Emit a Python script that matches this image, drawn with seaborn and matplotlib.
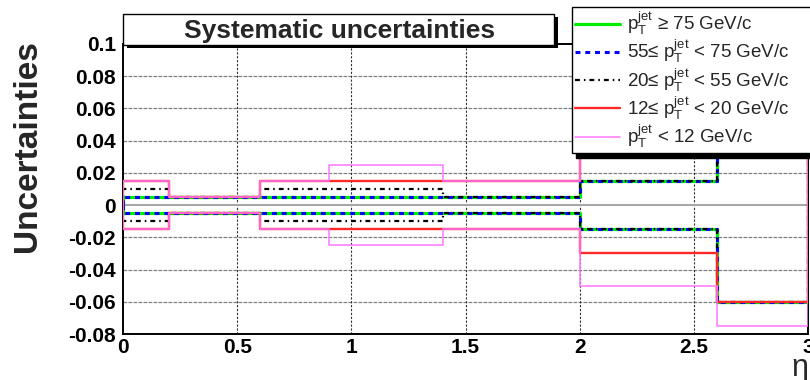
import matplotlib
matplotlib.use("Agg")
import matplotlib.pyplot as plt
from matplotlib.patches import Rectangle
from matplotlib.lines import Line2D
from matplotlib.ticker import FixedLocator, MultipleLocator
import pandas as pd
import seaborn as sns

# ---- data -------------------------------------------------------------
eta_edges = [0.0, 0.2, 0.6, 0.9, 1.4, 2.0, 2.6, 3.0]

unc_pt_ge75 = [0.005, 0.005, 0.005, 0.005, 0.005, 0.015, 0.060]
unc_pt_55_75 = [0.005, 0.005, 0.005, 0.005, 0.005, 0.015, 0.060]
unc_pt_20_55 = [0.010, 0.005, 0.010, 0.010, 0.005, 0.015, 0.060]
unc_pt_12_20 = [0.015, 0.005, 0.015, 0.015, 0.015, 0.030, 0.060]
unc_pt_lt12 = [0.015, 0.005, 0.015, 0.025, 0.015, 0.050, 0.075]

series_labels = [
    r"$\mathrm{p}_{\mathrm{T}}^{\mathrm{jet}}$ ≥ 75 GeV/c",
    r"55≤ $\mathrm{p}_{\mathrm{T}}^{\mathrm{jet}}$ < 75 GeV/c",
    r"20≤ $\mathrm{p}_{\mathrm{T}}^{\mathrm{jet}}$ < 55 GeV/c",
    r"12≤ $\mathrm{p}_{\mathrm{T}}^{\mathrm{jet}}$ < 20 GeV/c",
    r"$\mathrm{p}_{\mathrm{T}}^{\mathrm{jet}}$ < 12 GeV/c",
]

x_ticks = [0, 0.5, 1, 1.5, 2, 2.5, 3]
x_tick_labels = ["0", "0.5", "1", "1.5", "2", "2.5", "3"]
y_ticks = [-0.08, -0.06, -0.04, -0.02, 0.0, 0.02, 0.04, 0.06, 0.08, 0.1]
y_tick_labels = ["-0.08", "-0.06", "-0.04", "-0.02", "0",
                 "0.02", "0.04", "0.06", "0.08", "0.1"]

title_text = "Systematic uncertainties"
y_title = "Uncertainties"
x_title = "η"

# ---- style ------------------------------------------------------------
sns.set_theme(style="white")
plt.rcParams["font.family"] = ["Liberation Sans", "DejaVu Sans"]
plt.rcParams["mathtext.fontset"] = "custom"
plt.rcParams["mathtext.rm"] = "Liberation Sans"
plt.rcParams["mathtext.it"] = "Liberation Sans:italic"
plt.rcParams["mathtext.bf"] = "Liberation Sans:bold"

styles = [
    dict(color="#00ee00", lw=2.3, ls="-"),
    dict(color="#0000ff", lw=2.2, ls=(0, (1.6, 1.6))),
    dict(color="#000000", lw=1.6, ls=(0, (2.2, 1.8, 0.7, 1.8))),
    dict(color="#ff2828", lw=1.7, ls="-"),
    dict(color="#ff77ff", lw=1.1, ls="-"),
]
series_values = [unc_pt_ge75, unc_pt_55_75, unc_pt_20_55, unc_pt_12_20, unc_pt_lt12]

W, H = 810, 380
fig = plt.figure(figsize=(W / 100, H / 100), dpi=100)


def fx(px):
    return px / W


def fy(py):
    return 1 - py / H


ax = fig.add_axes([fx(123), fy(334), (808 - 123) / W, (334 - 44) / H])


def outline(edges, vals, sign):
    """Histogram outline (closed down to zero at both ends) for steps-post."""
    xs = [edges[0]] + list(edges) + [edges[-1]]
    ys = [0.0] + [sign * v for v in vals] + [sign * vals[-1], 0.0]
    return pd.DataFrame({"eta": xs, "unc": ys})


ax.axhline(0, color="#a8a8a8", lw=1.5, zorder=1)

for vals, st in zip(series_values, styles):
    for sign in (1, -1):
        df = outline(eta_edges, vals, sign)
        sns.lineplot(data=df, x="eta", y="unc", ax=ax, sort=False,
                     estimator=None, drawstyle="steps-post", legend=False,
                     color=st["color"], linewidth=st["lw"], linestyle=st["ls"],
                     zorder=3)

ax.set_xlim(0, 3)
ax.set_ylim(-0.08, 0.1)
ax.set_xlabel("")
ax.set_ylabel("")

ax.xaxis.set_major_locator(FixedLocator(x_ticks))
ax.set_xticklabels(x_tick_labels)
ax.xaxis.set_minor_locator(MultipleLocator(0.1))
ax.yaxis.set_major_locator(FixedLocator(y_ticks))
ax.set_yticklabels(y_tick_labels)
ax.yaxis.set_minor_locator(MultipleLocator(0.005))

ax.tick_params(axis="both", which="both", direction="in", colors="black",
               width=1.1, top=False, right=False)
ax.tick_params(axis="y", which="major", length=11, pad=5, labelsize=15)
ax.tick_params(axis="y", which="minor", length=7.5)
ax.tick_params(axis="x", which="major", length=5, pad=3, labelsize=15)
ax.tick_params(axis="x", which="minor", length=2.8)
for lab in ax.get_xticklabels() + ax.get_yticklabels():
    lab.set_fontweight("bold")

ax.grid(False)
for yv in y_ticks[1:-1]:
    if yv != 0.0:
        ax.axhline(yv, color="#808080", lw=0.9, ls=(0, (3, 1)), zorder=0.5)
for xv in x_ticks[1:-1]:
    ax.axvline(xv, color="#303030", lw=0.8, ls=(0, (2, 1.5)), zorder=0.5)

for side in ("left", "bottom", "top", "right"):
    ax.spines[side].set_color("black")
    ax.spines[side].set_linewidth(1.4)

# title box with shadow
fig.add_artist(Rectangle((fx(127), fy(48)), (558 - 127) / W, (48 - 17) / H,
                         transform=fig.transFigure, facecolor="black",
                         edgecolor="none", zorder=10))
fig.add_artist(Rectangle((fx(123), fy(45)), (554 - 123) / W, (45 - 14) / H,
                         transform=fig.transFigure, facecolor="white",
                         edgecolor="black", lw=1.0, zorder=11))
fig.text(fx(340), fy(31), title_text, ha="center", va="center",
         fontsize=19, fontweight="bold", zorder=12)

# axis titles
fig.text(fx(28), fy(146), y_title, rotation=90, ha="center", va="center",
         fontsize=24, fontweight="bold")
fig.text(fx(800), fy(368), x_title, ha="center", va="center", fontsize=22)

# legend
handles = [Line2D([], [], color=st["color"], lw=st["lw"], ls=st["ls"]) for st in styles]
leg = fig.legend(handles, series_labels, loc="upper left",
                 bbox_to_anchor=(fx(572), fy(7), (830 - 572) / W, 0.0),
                 mode="expand", borderaxespad=0, fontsize=13.5,
                 handlelength=2.4, handletextpad=0.4, labelspacing=0.05,
                 borderpad=0.15, fancybox=False,
                 shadow={"color": "black", "alpha": 1.0, "ox": 3, "oy": -3.5})
leg.get_frame().set_edgecolor("black")
leg.get_frame().set_linewidth(1.0)
leg.set_zorder(20)

fig.savefig("out.png", dpi=100)
